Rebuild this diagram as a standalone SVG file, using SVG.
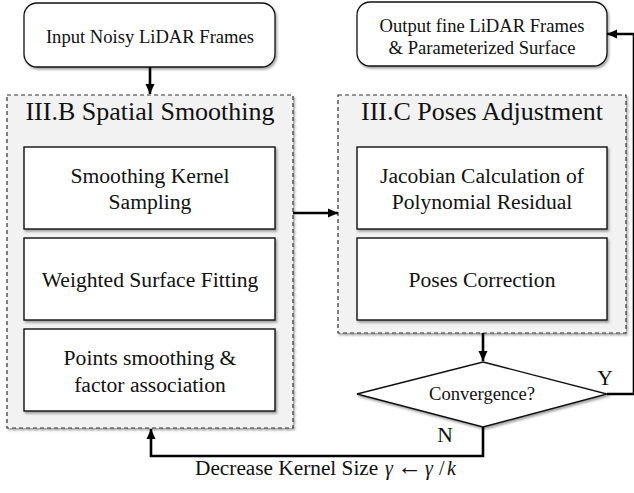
<svg xmlns="http://www.w3.org/2000/svg" width="634" height="493" viewBox="0 0 634 493">
  <style>
    text { font-family: "Liberation Serif", "Times New Roman", serif; fill: #111; text-anchor: middle; }
    .io { fill: #fff; stroke: #111; stroke-width: 1.3; }
    .stage { fill: #f2f2f2; stroke: #333; stroke-width: 1.2; stroke-dasharray: 4 3; }
    .step { fill: #fff; stroke: #111; stroke-width: 1.4; }
    .title { font-size: 26px; }
    .t18 { font-size: 18.6px; }
    .t22 { font-size: 21.6px; }
    .wire { fill: none; stroke: #000; stroke-width: 2.6; }
    .caption { font-size: 21.3px; text-anchor: start; }
    .math { font-size: 20px; text-anchor: start; }
    .it { font-style: italic; }
  </style>
  <defs>
    <filter id="shadow" x="-10%" y="-10%" width="125%" height="130%">
      <feDropShadow dx="1.5" dy="2" stdDeviation="1.3" flood-color="#000" flood-opacity="0.35"/>
    </filter>
    <marker id="arrow" viewBox="0 0 10 10" refX="10" refY="5" markerUnits="userSpaceOnUse" markerWidth="10" markerHeight="10" orient="auto">
      <path d="M0,0.5 L10,5 L0,9.5 Z" fill="#000"/>
    </marker>
  </defs>

  <!-- input frames -->
  <g id="input">
    <rect class="io" x="24" y="3" width="251" height="64" rx="13" filter="url(#shadow)"/>
    <text class="t18" x="150" y="43">Input Noisy LiDAR Frames</text>
  </g>

  <!-- output frames -->
  <g id="output">
    <rect class="io" x="357" y="2" width="250" height="64" rx="13" filter="url(#shadow)"/>
    <text class="t18" x="482" y="32">Output fine LiDAR Frames</text>
    <text class="t18" x="482" y="54">&amp; Parameterized Surface</text>
  </g>

  <!-- spatial smoothing stage -->
  <g id="spatial-smoothing">
    <rect class="stage" x="7" y="95" width="286" height="333" filter="url(#shadow)"/>
    <text class="title" x="150" y="120">III.B Spatial Smoothing</text>
  </g>
  <g id="kernel-sampling">
    <rect class="step" x="24" y="147" width="251" height="82" filter="url(#shadow)"/>
    <text class="t22" x="150" y="183">Smoothing Kernel</text>
    <text class="t22" x="150" y="209">Sampling</text>
  </g>
  <g id="surface-fitting">
    <rect class="step" x="24" y="238" width="251" height="82" filter="url(#shadow)"/>
    <text class="t22" x="150" y="287">Weighted Surface Fitting</text>
  </g>
  <g id="points-smoothing">
    <rect class="step" x="24" y="329" width="251" height="82" filter="url(#shadow)"/>
    <text class="t22" x="150" y="365">Points smoothing &amp;</text>
    <text class="t22" x="150" y="392">factor association</text>
  </g>

  <!-- poses adjustment stage -->
  <g id="poses-adjustment">
    <rect class="stage" x="338" y="95" width="288" height="238" filter="url(#shadow)"/>
    <text class="title" x="482" y="120">III.C Poses Adjustment</text>
  </g>
  <g id="jacobian">
    <rect class="step" x="357" y="147" width="250" height="82" filter="url(#shadow)"/>
    <text class="t22" x="482" y="183">Jacobian Calculation of</text>
    <text class="t22" x="482" y="209">Polynomial Residual</text>
  </g>
  <g id="poses-correction">
    <rect class="step" x="357" y="238" width="250" height="82" filter="url(#shadow)"/>
    <text class="t22" x="482" y="287">Poses Correction</text>
  </g>

  <!-- convergence check -->
  <g id="convergence">
    <polygon class="step" points="483,362 607,394 483,427 357,394" filter="url(#shadow)"/>
    <text class="t18" x="482" y="400">Convergence?</text>
  </g>

  <!-- connectors -->
  <g id="connectors">
    <path class="wire" d="M150,67 V94" marker-end="url(#arrow)"/>
    <path class="wire" d="M293,213 H338" marker-end="url(#arrow)"/>
    <path class="wire" d="M483,333 V361" marker-end="url(#arrow)"/>
    <path class="wire" d="M607,394 H634 V34 H607" marker-end="url(#arrow)"/>
    <path class="wire" d="M483,427 V456 H151 V429" marker-end="url(#arrow)"/>
    <text class="t22" x="605" y="385">Y</text>
    <text class="t22" x="445" y="442">N</text>
    <text class="caption" x="195" y="475">Decrease Kernel Size</text>
    <text class="math" y="475"><tspan class="it" x="385">γ</tspan><tspan x="397" style="font-size:25px">←</tspan><tspan class="it" x="425">γ</tspan><tspan x="439">/</tspan><tspan class="it" x="447">k</tspan></text>
  </g>
</svg>
